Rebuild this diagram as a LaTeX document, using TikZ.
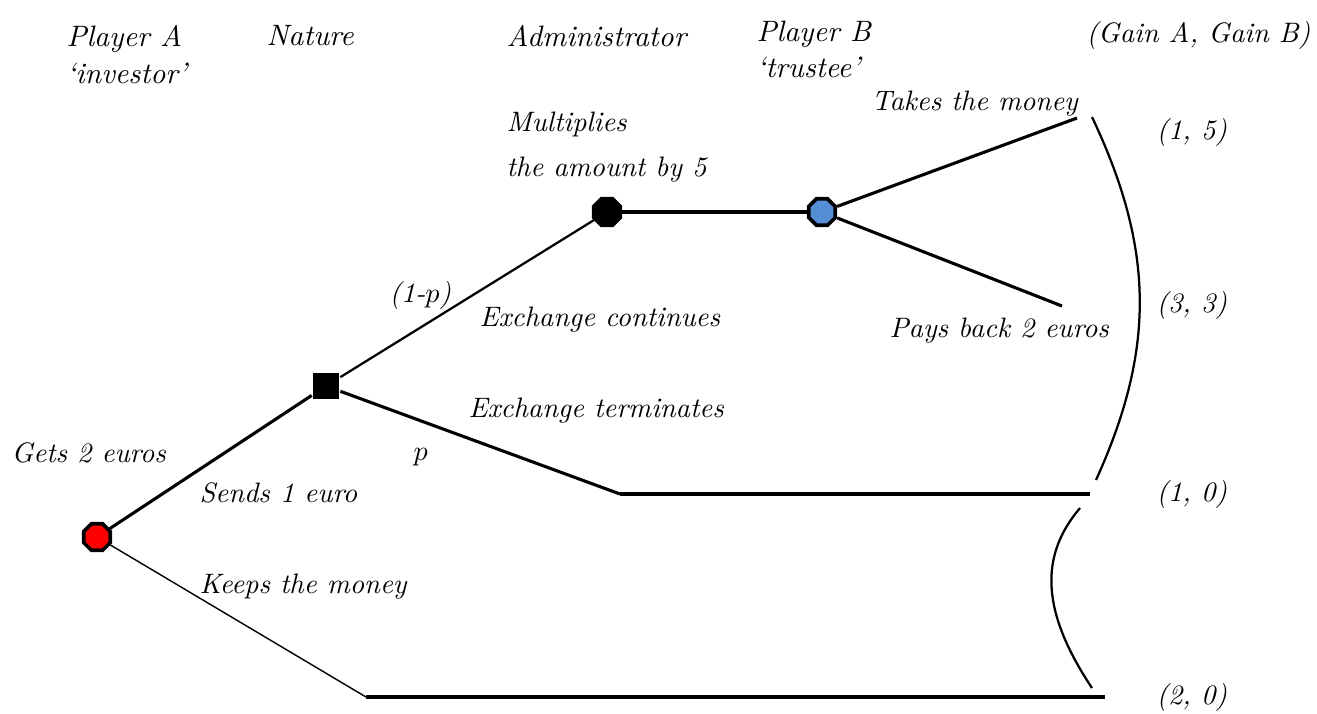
\documentclass[tikz,border=0pt]{standalone}
\usepackage{amsmath}
\usepackage{tikz}
\usetikzlibrary{shapes.geometric, positioning}

\definecolor{trusteeblue}{RGB}{85,142,213}

\begin{document}
\begin{tikzpicture}[x=0.0125cm, y=-0.0125cm, line width=1.1pt,
    oct node/.style={regular polygon, regular polygon sides=8, draw, line width=1.3pt, minimum size=0.36cm, inner sep=0pt},
    nat node/.style={rectangle, fill=black, minimum size=0.32cm, inner sep=0pt},
    lbl/.style={font=\fontsize{10}{12}\selectfont\itshape, inner sep=0pt, anchor=west},
    head/.style={font=\fontsize{10.5}{12}\selectfont\itshape, inner sep=0pt, anchor=north west, align=left}]

        \useasboundingbox (0,0) rectangle (1317,713);

        % decision nodes
        \node[oct node, fill=red]         (A) at (97,537)  {};
        \node[nat node]                   (N) at (326,386) {};
        \node[oct node, fill=black]       (M) at (607,212) {};
        \node[oct node, fill=trusteeblue] (B) at (822,212) {};

        % branch ends
        \coordinate (take) at (1077,118);
        \coordinate (pay)  at (1062,306);
        \coordinate (term) at (620,494);
        \coordinate (termend) at (1090,494);
        \coordinate (keep) at (366,697);
        \coordinate (keepend) at (1105,697);

          \path
            (A) edge                          (N)
                edge [line width=0.5pt]       (keep)
            (N) edge [line width=0.8pt]       (M)
                edge                          (term)
            (M) edge                          (B)
            (B) edge                          (take)
                edge                          (pay)
            (term) edge                       (termend)
            (keep) edge                       (keepend);

        % outcome braces
        \coordinate (u1) at (1092,117);
        \coordinate (u2) at (1096,480);
        \coordinate (l1) at (1080,508);
        \coordinate (l2) at (1092,688);
        \draw[line width=0.8pt] (u1) .. controls (1155,250) and (1155,350) .. (u2);
        \draw[line width=0.8pt] (l1) .. controls (1040,555) and (1040,610) .. (l2);

        % column headings
        \node[head] (hA) at (65,24)  {Player A\\[1pt]`investor'};
        \node[head] (hN) at (265,24) {Nature};
        \node[head] (hM) at (505,24) {Administrator};
        \node[head] (hB) at (755,19) {Player B\\[1pt]`trustee'};
        \node[lbl]  (hG) at (1085,35) {(Gain A, Gain B)};

        % branch labels
        \node[lbl] (ltake)  at (870,104) {Takes the money};
        \node[lbl, align=left] (lmult) at (505,147) {Multiplies\\[4pt]the amount\ by 5};
        \node[lbl] (lq)     at (388,295) {(1-$p$)};
        \node[lbl] (lcont)  at (478,320) {Exchange continues};
        \node[lbl] (lpay)   at (888,331) {Pays back 2 euros};
        \node[lbl] (lterm)  at (467,411) {Exchange terminates};
        \node[lbl] (lp)     at (412,457) {$p$};
        \node[lbl] (lgets)  at (10,453)  {Gets 2 euros};
        \node[lbl] (lsend)  at (198,493) {Sends 1 euro};
        \node[lbl] (lkeep)  at (198,587) {Keeps the money};

        % payoffs
        \node[lbl] (g1) at (1155,132) {(1, 5)};
        \node[lbl] (g2) at (1155,305) {(3, 3)};
        \node[lbl] (g3) at (1155,494) {(1, 0)};
        \node[lbl] (g4) at (1155,697) {(2, 0)};
        \end{tikzpicture}
\end{document}
